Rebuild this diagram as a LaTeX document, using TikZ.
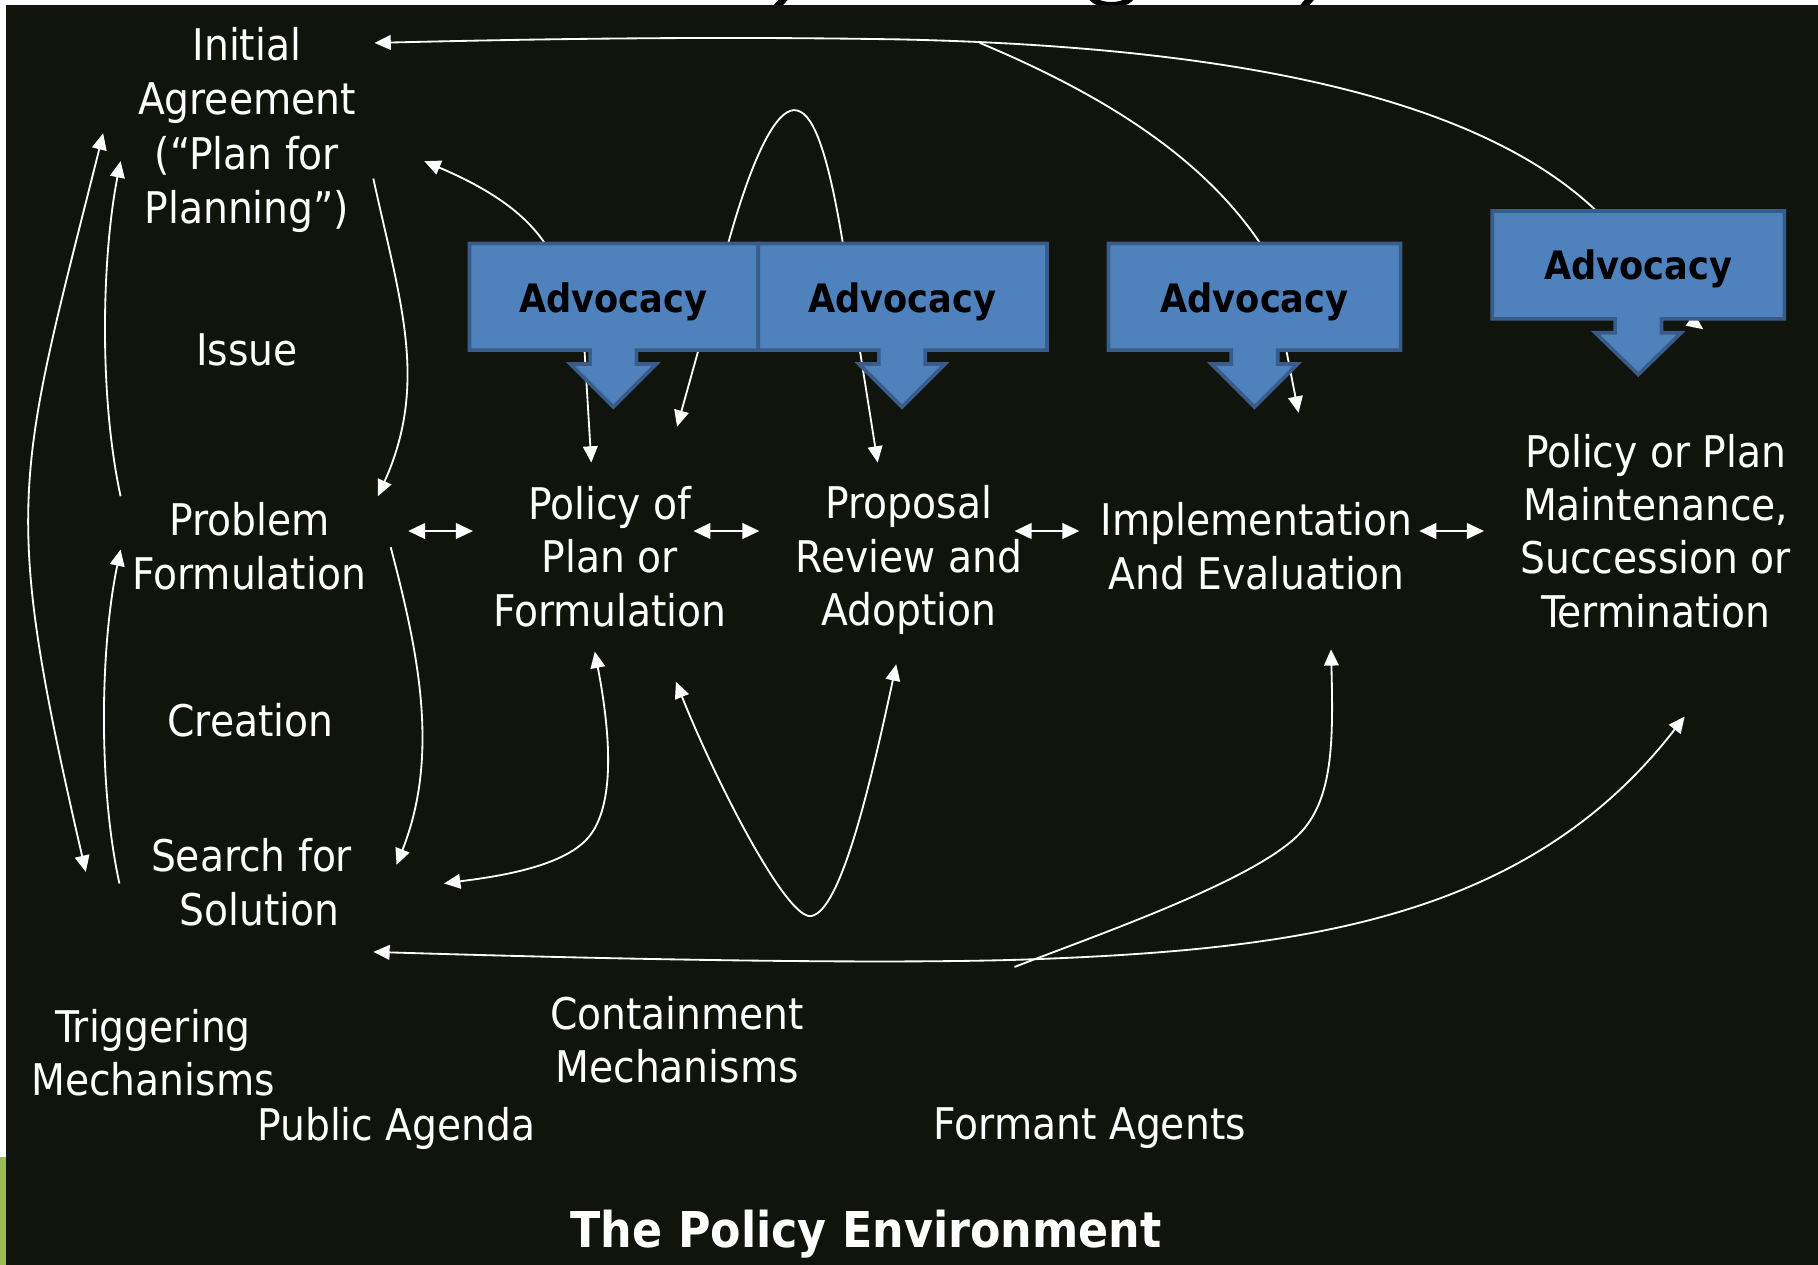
\documentclass[tikz,border=0pt]{standalone}
\usepackage{fontspec}
\setmainfont{DejaVu Sans Condensed}
\usetikzlibrary{arrows.meta}
\definecolor{bgdark}{RGB}{17,20,12}
\definecolor{advfill}{HTML}{4F81BD}
\definecolor{advline}{HTML}{385D8A}
\definecolor{barg}{HTML}{9BBB59}
\newcommand\advshape[7]{%
  \filldraw[advbox] (#1,#3) -- (#2,#3) -- (#2,#4) -- (#5+20,#4) -- (#5+20,#6) -- (#5+37,#6) -- (#5,#7)
   -- (#5-37,#6) -- (#5-20,#6) -- (#5-20,#4) -- (#1,#4) -- cycle;}
\begin{document}
\begin{tikzpicture}[x=0.01cm,y=-0.01cm,
  lbl/.style={text=white, font=\fontsize{10.7}{13.1}\selectfont, align=center, inner sep=0pt},
  advtxt/.style={text=black, font=\bfseries\fontsize{9.6}{11}\selectfont, inner sep=0pt},
  ttl/.style={text=white, font=\bfseries\fontsize{12.1}{14}\selectfont, inner sep=0pt},
  advbox/.style={fill=advfill, draw=advline, line width=0.9pt},
  conn/.style={draw=white, line width=0.45pt},
  dbl/.style={draw=white, line width=0.65pt, {Triangle[length=4.2pt,width=3.8pt]}-{Triangle[length=4.2pt,width=3.8pt]}},
  hd/.style={-{Triangle[length=4pt,width=3.6pt]}},
  hds/.style={{Triangle[length=4pt,width=3.6pt]}-},
  hdb/.style={{Triangle[length=4pt,width=3.6pt]}-{Triangle[length=4pt,width=3.6pt]}}]
\useasboundingbox (0,0) rectangle (1568,1091);
% background
\fill[white] (0,0) rectangle (1568,1091);
\fill[bgdark] (5,4.3) rectangle (1568,1091);
\fill[barg] (0,998) rectangle (5,1091);
% title fragments in the top strip
\begin{scope}
\clip (0,0) rectangle (1568,4.3);
\draw[black, line width=0.06cm] (670,6) -- (677,-2);
\draw[black, line width=0.05cm] (940,-4) .. controls (945,7) and (972,7) .. (977,-4);
\draw[black, line width=0.06cm] (1124,6) -- (1131,-2);
\end{scope}

% text nodes
\node[lbl, font=\fontsize{10.7}{13.35}\selectfont] (init) at (213,112) {Initial\\Agreement\\(“Plan for\\Planning”)};
\node[lbl] (issue) at (213,302) {Issue};
\node[lbl] (prob) at (215,471) {Problem\\Formulation};
\node[lbl] (crea) at (216,621) {Creation};
\node[lbl] (search) at (217,761) {Search for\\\hspace*{4pt}Solution};
\node[lbl] (trig) at (132,908) {Triggering\\Mechanisms};
\node[lbl] (pub) at (342,973) {Public Agenda};
\node[lbl] (cont) at (584,897) {Containment\\Mechanisms};
\node[lbl] (form) at (940,973) {Formant Agents};
\node[lbl] (pol) at (526,480) {Policy of\\Plan or\\Formulation};
\node[lbl] (prop) at (784,483) {Proposal\\Review and\\Adoption};
\node[lbl] (impl) at (1084,471) {Implementation\\And Evaluation};
\node[lbl] (maint) at (1428,458) {Policy or Plan\\Maintenance,\\Succession or\\Termination};
\node[ttl] (env) at (747,1064) {The Policy Environment};

% connector end points
\coordinate (a4t) at (1377,182);
\coordinate (tmid) at (776,34);
\coordinate (initR) at (323,37);
\coordinate (tbr) at (845,37);
\coordinate (a3t) at (1087,210);
\coordinate (a1t) at (470,210);
\coordinate (initB) at (366,139);
\coordinate (archL) at (584,368);
\coordinate (archR) at (757,399);
\coordinate (a1b) at (504,300);
\coordinate (polT) at (510,399);
\coordinate (a3b) at (1109,300);
\coordinate (implT) at (1120,356);
\coordinate (a4in) at (1430,255);
\coordinate (a4tp) at (1469,284);
\coordinate (lA1) at (89,115);
\coordinate (lA2) at (74,752);
\coordinate (lB1) at (104,428);
\coordinate (lB2) at (104,139);
\coordinate (lC1) at (103,762);
\coordinate (lC2) at (104,474);
\coordinate (rD1) at (322,154);
\coordinate (rD2) at (326,428);
\coordinate (rE1) at (337,472);
\coordinate (rE2) at (342,746);
\coordinate (polB) at (513,562);
\coordinate (srchR) at (383,762);
\coordinate (polBR) at (583,588);
\coordinate (propB) at (773,573);
\coordinate (implB) at (1148,560);
\coordinate (fend) at (875,834);
\coordinate (srchB) at (322,821);
\coordinate (maintB) at (1453,618);
\coordinate (d1a) at (352,458); \coordinate (d1b) at (408,458);
\coordinate (d2a) at (598,458); \coordinate (d2b) at (655,458);
\coordinate (d3a) at (875,458); \coordinate (d3b) at (931,458);
\coordinate (d4a) at (1224,458); \coordinate (d4b) at (1280,458);

% connectors
\draw[conn,hd] (a4t) .. controls (1270,80) and (1050,40) .. (tmid) .. controls (600,31) and (450,34) .. (initR);
\draw[conn] (tbr) .. controls (960,85) and (1040,140) .. (a3t);
\draw[conn,hd] (a1t) .. controls (450,180) and (415,160) .. (initB);
\draw[conn,hdb] (archL) -- (628,210) .. controls (650,131) and (670,95) .. (685,95)
   .. controls (700,95) and (713,125) .. (727,210) -- (archR);
\draw[conn,hd] (a1b) -- (polT);
\draw[conn,hd] (a3b) -- (implT);
\draw[conn,hd] (a4in) -- (a4tp);
\draw[conn,hdb] (lA1) .. controls (14,415) and (0,432) .. (lA2);
\draw[conn,hd] (lB1) .. controls (85,340) and (88,220) .. (lB2);
\draw[conn,hd] (lC1) .. controls (85,680) and (86,560) .. (lC2);
\draw[conn,hd] (rD1) .. controls (345,260) and (370,330) .. (rD2);
\draw[conn,hd] (rE1) .. controls (360,560) and (380,650) .. (rE2);
\draw[conn,hdb] (polB) .. controls (528,640) and (530,700) .. (505,725) .. controls (480,750) and (420,757) .. (srchR);
\draw[conn,hdb] (polBR) .. controls (620,680) and (680,795) .. (700,790) .. controls (725,785) and (750,680) .. (propB);
\draw[conn,hds] (implB) .. controls (1150,640) and (1150,690) .. (1120,720) .. controls (1080,760) and (950,805) .. (fend);
\draw[conn,hdb] (srchB) .. controls (550,828) and (780,832) .. (900,827) .. controls (1130,818) and (1320,790) .. (maintB);
\draw[dbl] (d1a) -- (d1b);
\draw[dbl] (d2a) -- (d2b);
\draw[dbl] (d3a) -- (d3b);
\draw[dbl] (d4a) -- (d4b);

% advocacy callouts
\advshape{405}{654}{210}{302}{529}{314}{351}
\advshape{654}{903}{210}{302}{778}{314}{351}
\advshape{956}{1208}{210}{302}{1082}{314}{351}
\advshape{1287}{1539}{182}{275}{1413}{287}{323}
\node[advtxt] (adv1) at (529,260) {Advocacy};
\node[advtxt] (adv2) at (778,260) {Advocacy};
\node[advtxt] (adv3) at (1082,260) {Advocacy};
\node[advtxt] (adv4) at (1413,232) {Advocacy};
\end{tikzpicture}
\end{document}
